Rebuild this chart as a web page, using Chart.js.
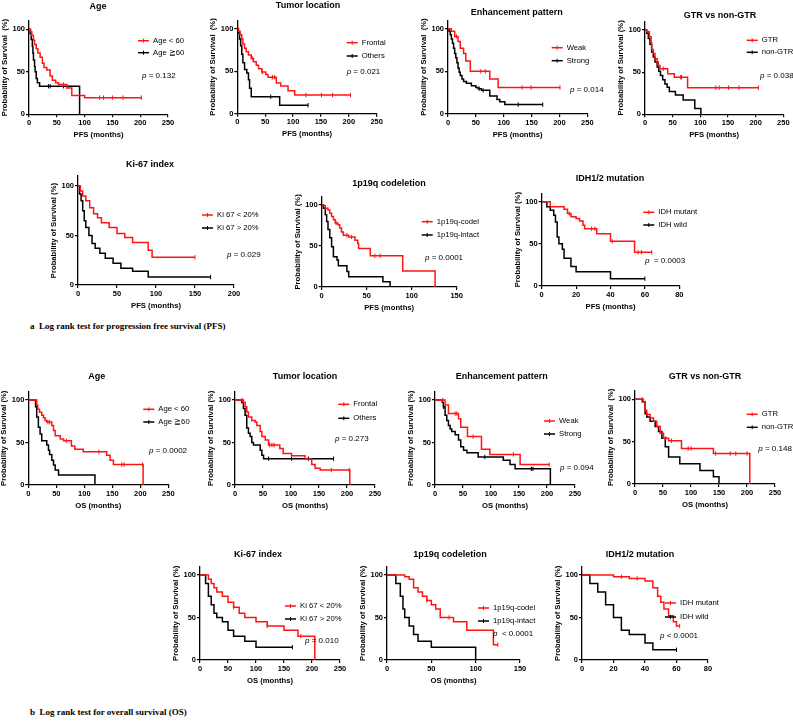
<!DOCTYPE html>
<html>
<head>
<meta charset="utf-8">
<script src="https://cdn.jsdelivr.net/npm/chart.js@4.4.0/dist/chart.umd.min.js"></script>
<style>
  body { margin: 0; background: #fff; width: 793px; height: 725px; position: relative; overflow: hidden; }
  canvas { position: absolute; }
  .cap { position: absolute; font-family: "Liberation Serif", "Times New Roman", serif; font-weight: bold; font-size: 9px; white-space: pre; color: #000; }
</style>
</head>
<body>
<div class="cap" style="left:30px;top:321px">a  Log rank test for progression free survival (PFS)</div>
<div class="cap" style="left:30px;top:707px">b  Log rank test for overall survival (OS)</div>
<script>
// ---- Kaplan-Meier curves: [months, survival %] after each drop, last point = end of follow-up ----
// PFS
const pfsAgeYoung = [[0,100],[3,97],[5,93],[8,87],[10,82],[13,77],[16,72],[20,67],[24,60],[27,55],[32,52],[38,45],[42,40],[48,37],[53,35],[68,31],[77,22],[100,19.6],[202,19.6]];
const pfsAgeYoungCens = [62, 127, 134, 150, 169, 202];
const pfsAgeOld = [[0,100],[2,95],[4,88],[6,80],[7,72],[8,64],[10,56],[11,50],[13,42],[15,37],[19,33],[91,0]];
const pfsAgeOldCens = [35, 38, 62];

const pfsLocFrontal = [[0,100],[2,97],[5,93],[8,88],[10,82],[13,77],[16,73],[20,69],[25,65],[29,61],[34,57],[38,53],[44,49],[51,46],[55,43],[70,36],[78,32.5],[91,27],[103,22],[203,22]];
const pfsLocFrontalCens = [27, 45, 63, 67, 123, 151, 171, 203];
const pfsLocOther = [[0,100],[2,95],[4,88],[6,80],[8,70],[10,60],[13,52],[17,48],[20,40],[22,30],[25,20],[76,10],[127,10]];
const pfsLocOtherCens = [60, 127];

const pfsEnhWeak = [[0,100],[6,97],[12,91],[18,85],[22,77],[28,71],[32,62],[40,50],[75,41],[90,31],[201,31]];
const pfsEnhWeakCens = [15, 59, 67, 133, 149, 201];
const pfsEnhStrong = [[0,100],[2,97],[4,93],[6,88],[8,83],[10,77],[12,71],[14,66],[16,60],[18,54],[20,49],[22,45],[25,41],[28,38],[33,36],[42,33],[50,31],[54,29.7],[60,27.7],[75,21],[88,17],[93,14.5],[102,11],[170,11]];
const pfsEnhStrongCens = [56, 63, 126, 170];

const pfsGtr = [[0,100],[3,98],[8,92],[11,85],[12,77],[15,72],[18,66],[22,62],[24,58],[27,54],[41,48],[53,44],[77,31.6],[205,31.6]];
const pfsGtrCens = [33, 64, 66, 128, 134, 151, 170, 205];
const pfsNonGtr = [[0,100],[3,96],[6,90],[9,83],[12,74],[15,68],[18,62],[22,56],[25,51],[28,46],[32,41],[36,36],[40,32],[44,27],[55,23],[69,17],[90,7],[101,0]];
const pfsNonGtrCens = [];

const pfsKiLow = [[0,100],[3,95],[6,90],[10,85],[15,78],[20,72],[25,68],[30,63],[40,58],[50,52],[60,48],[70,43],[90,35],[95,28],[150,28]];
const pfsKiLowCens = [150];
const pfsKiHigh = [[0,100],[2,92],[4,85],[6,75],[8,65],[10,58],[14,50],[18,42],[22,37],[28,32],[35,27],[45,22],[55,17],[70,14],[90,8],[170,8]];
const pfsKiHighCens = [170];

const pfsCodel = [[0,100],[2,99],[4,96],[7,94],[9,90],[11,86],[13,82],[15,78],[18,76],[20,72],[22,67],[24,63],[30,61],[37,57],[40,53],[41,47],[54,38],[90,19.5],[126,0]];
const pfsCodelCens = [16, 28, 33, 59, 65];
const pfsIntact = [[0,100],[2,96],[4,88],[5.5,80],[7,70],[9,60],[11,49],[13,37],[17,33],[18.5,26],[28,19],[30,12.6],[68,6.5],[76,0]];
const pfsIntactCens = [];

const pfsIdhMut = [[0,100],[5,94],[13,91],[15,86],[17,82],[20,80],[22,77],[24,72],[25,68],[32,62],[40,53],[54,40],[64,40]];
const pfsIdhMutCens = [16, 29, 31, 41, 56, 58, 64];
const pfsIdhWild = [[0,100],[3,94],[5,90],[7,84],[8,76],[9,58],[10,50],[12,43.5],[13,33],[17,23],[20,17],[40,8.7],[60,8.7]];
const pfsIdhWildCens = [60];

// OS
const osAgeYoung = [[0,100],[15,94],[17,89],[20,85.5],[24,82],[27,79],[30,76],[33,74],[42,70],[45,64],[48,58],[57,54],[63,52],[77,46],[83,42],[98,39],[140,35],[146,29],[152,24],[205,0]];
const osAgeYoungCens = [35, 38, 68, 126, 167, 171, 204];
const osAgeOld = [[0,100],[13,92],[15,80],[18,68],[21,60],[24,52],[33,47],[36,41],[38,36],[42,29],[45,23.5],[48,17.6],[54,11.8],[119,0]];
const osAgeOldCens = [];

const osLocFrontal = [[0,100],[15,97],[18,92],[21,86],[24,80],[30,76],[36,74],[39,70],[45,63],[48,57],[54,53],[60,47],[80,43],[86,37],[101,34.5],[125,30.6],[137,24],[143,19.6],[152,17.6],[205,0]];
const osLocFrontalCens = [13, 62, 66, 70, 172, 204];
const osLocOther = [[0,100],[12,97],[15,90],[18,82],[21,67],[24,61],[27,57],[30,50],[33,47],[45,41],[48,35],[51,31],[176,31]];
const osLocOtherCens = [60, 101, 131, 176];

const osEnhWeak = [[0,100],[18,94],[24,84],[42,78],[46,68],[58,57],[83,42],[98,36],[152,24],[204,24]];
const osEnhWeakCens = [14, 36, 39, 68, 140, 204];
const osEnhStrong = [[0,100],[13,97],[15,92],[18,82],[21,76],[24,70],[27,66],[30,63],[36,59],[42,53],[46,45],[51,41],[57,38],[77,33],[122,29],[134,24],[143,19],[206,0]];
const osEnhStrongCens = [15, 89, 172, 175];

const osGtr = [[0,100],[15,97],[18,87],[21,82],[27,78],[33,74],[39,68],[45,60],[51,54],[60,51],[83,42],[140,36],[205,0]];
const osGtrCens = [13, 55, 65, 95, 100, 144, 170, 180, 200];
const osNonGtr = [[0,100],[13,97],[18,83],[21,79],[27,74],[36,68],[42,62],[48,54],[54,44],[60,32],[80,24],[116,16],[140,8.7],[150,0]];
const osNonGtrCens = [];

const osKiLow = [[0,100],[15,95],[20,90],[25,85],[30,80],[40,75],[50,68],[60,62],[70,55],[80,50],[100,45],[120,40],[150,35],[175,28],[205,0]];
const osKiLowCens = [60, 120, 180];
const osKiHigh = [[0,100],[10,90],[15,75],[20,65],[25,55],[30,50],[40,45],[50,35],[60,28],[80,22],[100,15],[165,15]];
const osKiHighCens = [165];

const osCodel = [[0,100],[20,98],[25,95],[30,85],[35,80],[40,75],[45,70],[50,65],[55,60],[60,50],[75,45],[90,35],[120,18],[125,18]];
const osCodelCens = [45, 70, 125];
const osIntact = [[0,100],[10,90],[15,75],[18,60],[20,50],[25,40],[30,30],[35,22],[50,15],[100,0]];
const osIntactCens = [];

const osIdhMut = [[0,100],[20,98],[30,96],[40,93],[45,85],[48,75],[50,68],[52,60],[55,52],[58,45],[60,40],[62,40]];
const osIdhMutCens = [25, 35, 62];
const osIdhWild = [[0,100],[5,90],[10,80],[15,65],[20,50],[25,35],[30,30],[40,20],[45,12],[60,12]];
const osIdhWildCens = [60];

const RED = '#ff1414';
const BLACK = '#000000';
const FONT = '"Liberation Sans", Arial, sans-serif';

const panels = [
  { title: 'Age', xLabel: 'PFS (months)', yLabel: 'Probability of Survival  (%)', xMax: 250, xStep: 50, pText: ' = 0.132',
    series: [{ label: 'Age < 60', color: RED, steps: pfsAgeYoung, cens: pfsAgeYoungCens }, { label: 'Age \u226760', color: BLACK, steps: pfsAgeOld, cens: pfsAgeOldCens }],
    x0: 29, x1: 168, y100: 29.3, y0: 114.3, tx: 98, ty: 7, lx: 138, ly: [40.7, 52.7], px: 142, py: 76 },
  { title: 'Tumor location', xLabel: 'PFS (months)', yLabel: 'Probability of Survival  (%)', xMax: 250, xStep: 50, pText: ' = 0.021',
    series: [{ label: 'Frontal', color: RED, steps: pfsLocFrontal, cens: pfsLocFrontalCens }, { label: 'Others', color: BLACK, steps: pfsLocOther, cens: pfsLocOtherCens }],
    x0: 237.3, x1: 376.7, y100: 28.7, y0: 113.7, tx: 308, ty: 6, lx: 346.7, ly: [42.7, 56], px: 346.7, py: 72 },
  { title: 'Enhancement pattern', xLabel: 'PFS (months)', yLabel: 'Probability of Survival  (%)', xMax: 250, xStep: 50, pText: ' = 0.014',
    series: [{ label: 'Weak', color: RED, steps: pfsEnhWeak, cens: pfsEnhWeakCens }, { label: 'Strong', color: BLACK, steps: pfsEnhStrong, cens: pfsEnhStrongCens }],
    x0: 448, x1: 587.3, y100: 28.7, y0: 114, tx: 516.7, ty: 13, lx: 551.7, ly: [47.7, 60.7], px: 570, py: 90 },
  { title: 'GTR vs non-GTR', xLabel: 'PFS (months)', yLabel: 'Probability of Survival (%)', xMax: 250, xStep: 50, pText: ' = 0.038',
    series: [{ label: 'GTR', color: RED, steps: pfsGtr, cens: pfsGtrCens }, { label: 'non-GTR', color: BLACK, steps: pfsNonGtr, cens: pfsNonGtrCens }],
    x0: 645, x1: 783.3, y100: 30, y0: 114.3, tx: 720, ty: 16, lx: 746.7, ly: [40.3, 52.3], px: 760, py: 75.3 },

  { title: 'Ki-67 index', xLabel: 'PFS (months)', yLabel: 'Probability of Survival (%)', xMax: 200, xStep: 50, pText: ' = 0.029',
    series: [{ label: 'Ki 67 < 20%', color: RED, steps: pfsKiLow, cens: pfsKiLowCens }, { label: 'Ki 67 > 20%', color: BLACK, steps: pfsKiHigh, cens: pfsKiHighCens }],
    x0: 78, x1: 234, y100: 186, y0: 285, tx: 150, ty: 165, lx: 202, ly: [215, 228], px: 227, py: 255 },
  { title: '1p19q codeletion', xLabel: 'PFS (months)', yLabel: 'Probability of Survival (%)', xMax: 150, xStep: 50, pText: ' = 0.0001',
    series: [{ label: '1p19q-codel', color: RED, steps: pfsCodel, cens: pfsCodelCens }, { label: '1p19q-intact', color: BLACK, steps: pfsIntact, cens: pfsIntactCens }],
    x0: 321.7, x1: 456.7, y100: 205, y0: 287, tx: 389, ty: 184, lx: 421.7, ly: [221.7, 235], px: 425, py: 257.3 },
  { title: 'IDH1/2 mutation', xLabel: 'PFS (months)', yLabel: 'Probability of Survival (%)', xMax: 80, xStep: 20, pText: '  = 0.0003',
    series: [{ label: 'IDH mutant', color: RED, steps: pfsIdhMut, cens: pfsIdhMutCens }, { label: 'IDH wild', color: BLACK, steps: pfsIdhWild, cens: pfsIdhWildCens }],
    x0: 541.7, x1: 679.3, y100: 201.7, y0: 286, tx: 610, ty: 179, lx: 643.3, ly: [212.3, 225], px: 645, py: 260.7 },

  { title: 'Age', xLabel: 'OS (months)', yLabel: 'Probability of Survival (%)', xMax: 250, xStep: 50, pText: ' = 0.0002',
    series: [{ label: 'Age < 60', color: RED, steps: osAgeYoung, cens: osAgeYoungCens }, { label: 'Age \u226760', color: BLACK, steps: osAgeOld, cens: osAgeOldCens }],
    x0: 28.3, x1: 168.3, y100: 400, y0: 485, tx: 96.7, ty: 376.7, lx: 143.3, ly: [409.3, 422], px: 149, py: 450.7 },
  { title: 'Tumor location', xLabel: 'OS (months)', yLabel: 'Probability of Survival (%)', xMax: 250, xStep: 50, pText: ' = 0.273',
    series: [{ label: 'Frontal', color: RED, steps: osLocFrontal, cens: osLocFrontalCens }, { label: 'Others', color: BLACK, steps: osLocOther, cens: osLocOtherCens }],
    x0: 235, x1: 375, y100: 400, y0: 485, tx: 305, ty: 376.7, lx: 338.3, ly: [404.3, 418.3], px: 335, py: 439 },
  { title: 'Enhancement pattern', xLabel: 'OS (months)', yLabel: 'Probability of Survival (%)', xMax: 250, xStep: 50, pText: ' = 0.094',
    series: [{ label: 'Weak', color: RED, steps: osEnhWeak, cens: osEnhWeakCens }, { label: 'Strong', color: BLACK, steps: osEnhStrong, cens: osEnhStrongCens }],
    x0: 435, x1: 575, y100: 400, y0: 485, tx: 501.7, ty: 376.7, lx: 544, ly: [421, 434], px: 560, py: 467.3 },
  { title: 'GTR vs non-GTR', xLabel: 'OS (months)', yLabel: 'Probability of Survival  (%)', xMax: 250, xStep: 50, pText: ' = 0.148',
    series: [{ label: 'GTR', color: RED, steps: osGtr, cens: osGtrCens }, { label: 'non-GTR', color: BLACK, steps: osNonGtr, cens: osNonGtrCens }],
    x0: 635, x1: 775, y100: 399.3, y0: 484, tx: 705, ty: 376.7, lx: 746.7, ly: [414.3, 427.3], px: 758.3, py: 448.3 },

  { title: 'Ki-67 index', xLabel: 'OS (months)', yLabel: 'Probability of Survival (%)', xMax: 250, xStep: 50, pText: ' = 0.010',
    series: [{ label: 'Ki 67 < 20%', color: RED, steps: osKiLow, cens: osKiLowCens }, { label: 'Ki 67 > 20%', color: BLACK, steps: osKiHigh, cens: osKiHighCens }],
    x0: 200, x1: 340, y100: 575, y0: 660, tx: 258, ty: 555, lx: 285, ly: [606, 619], px: 305, py: 641 },
  { title: '1p19q codeletion', xLabel: 'OS (months)', yLabel: 'Probability of Survival (%)', xMax: 150, xStep: 50, pText: '  < 0.0001',
    series: [{ label: '1p19q-codel', color: RED, steps: osCodel, cens: osCodelCens }, { label: '1p19q-intact', color: BLACK, steps: osIntact, cens: osIntactCens }],
    x0: 387, x1: 520, y100: 575, y0: 660, tx: 450, ty: 555, lx: 478, ly: [608, 621], px: 493, py: 634 },
  { title: 'IDH1/2 mutation', xLabel: '', yLabel: 'Probability of Survival (%)', xMax: 80, xStep: 20, pText: ' < 0.0001',
    series: [{ label: 'IDH mutant', color: RED, steps: osIdhMut, cens: osIdhMutCens }, { label: 'IDH wild', color: BLACK, steps: osIdhWild, cens: osIdhWildCens }],
    x0: 582, x1: 708, y100: 575, y0: 660, tx: 640, ty: 555, lx: 665, ly: [603, 617], px: 660, py: 636 }
];

// survival value at time t (last step at or before t)
function survAt(steps, t) {
  let s = 100;
  for (const [x, y] of steps) { if (x <= t) s = y; }
  return s;
}

const Y_AXIS_W = 28.8;   // axis box width -> y title centre ~24px left of axis
const X_AXIS_H = 25.3;   // axis box height -> x title centre ~20.5px below axis
const TOP_PAD = 30;
const RIGHT_PAD = 100;

function drawPanel(p) {
  const yTop = p.y0 - 1.1 * (p.y0 - p.y100);
  const left = Math.floor(p.x0 - Y_AXIS_W);
  const top = Math.floor(yTop - TOP_PAD);
  const W = Math.ceil(p.x1 + RIGHT_PAD - left);
  const H = Math.ceil(p.y0 + X_AXIS_H + 2 - top);

  const cv = document.createElement('canvas');
  cv.width = W; cv.height = H;
  cv.style.left = left + 'px'; cv.style.top = top + 'px';
  cv.style.width = W + 'px'; cv.style.height = H + 'px';
  document.body.appendChild(cv);

  const datasets = [];
  p.series.forEach(s => {
    datasets.push({
      data: s.steps.map(([x, y]) => ({ x, y })),
      stepped: 'before',
      borderColor: s.color,
      borderWidth: 1.5,
      pointRadius: 0,
      fill: false
    });
    datasets.push({
      data: s.cens.map(t => ({ x: t, y: survAt(s.steps, t) })),
      showLine: false,
      pointStyle: 'line',
      rotation: 90,
      pointRadius: 2.2,
      pointBorderWidth: 1,
      borderColor: s.color,
      pointBorderColor: s.color
    });
  });

  const deco = {
    id: 'deco',
    afterDraw(chart) {
      const ctx = chart.ctx;
      ctx.save();
      ctx.fillStyle = '#000';
      ctx.textBaseline = 'middle';
      ctx.font = 'bold 9px ' + FONT;
      ctx.textAlign = 'center';
      ctx.fillText(p.title, p.tx - left, p.ty - top);

      ctx.textAlign = 'left';
      ctx.font = '7.7px ' + FONT;
      p.series.forEach((s, i) => {
        const x = p.lx - left, y = p.ly[i] - top;
        ctx.strokeStyle = s.color;
        ctx.lineWidth = 1.5;
        ctx.beginPath();
        ctx.moveTo(x, y); ctx.lineTo(x + 11, y);
        ctx.stroke();
        ctx.lineWidth = 1;
        ctx.beginPath();
        ctx.moveTo(x + 5.5, y - 2); ctx.lineTo(x + 5.5, y + 2);
        ctx.stroke();
        ctx.fillText(s.label, x + 15, y);
      });

      let x = p.px - left;
      const y = p.py - top;
      ctx.font = 'italic 8px ' + FONT;
      ctx.fillText('p', x, y);
      x += ctx.measureText('p').width;
      ctx.font = '8px ' + FONT;
      ctx.fillText(p.pText, x, y);
      ctx.restore();
    }
  };

  new Chart(cv, {
    type: 'line',
    data: { datasets },
    plugins: [deco],
    options: {
      responsive: false,
      animation: false,
      devicePixelRatio: 1,
      layout: {
        padding: {
          left: (p.x0 - Y_AXIS_W) - left,
          top: yTop - top,
          right: W - (p.x1 - left),
          bottom: H - (p.y0 - top) - X_AXIS_H
        }
      },
      plugins: { legend: { display: false }, tooltip: { enabled: false }, title: { display: false } },
      scales: {
        x: {
          type: 'linear', min: 0, max: p.xMax,
          ticks: { stepSize: p.xStep, color: '#000', font: { family: FONT, size: 7.5, weight: 'bold' }, padding: 1, maxRotation: 0, autoSkip: false },
          grid: { drawOnChartArea: false, drawTicks: true, tickLength: 3, color: '#000', lineWidth: 1.2 },
          border: { color: '#000', width: 1.3 },
          title: { display: p.xLabel !== '', text: p.xLabel, color: '#000', font: { family: FONT, size: 7.7, weight: 'bold' }, padding: 0 },
          afterFit: s => { s.height = X_AXIS_H; }
        },
        y: {
          min: 0, max: 110,
          ticks: { stepSize: 50, includeBounds: false, color: '#000', font: { family: FONT, size: 7.5, weight: 'bold' }, padding: 1 },
          grid: { drawOnChartArea: false, drawTicks: true, tickLength: 3, color: '#000', lineWidth: 1.2 },
          border: { color: '#000', width: 1.3 },
          title: { display: true, text: p.yLabel, color: '#000', font: { family: FONT, size: 7.7, weight: 'bold' }, padding: 0 },
          afterFit: s => { s.width = Y_AXIS_W; }
        }
      }
    }
  });
}

panels.forEach(drawPanel);
</script>
</body>
</html>
